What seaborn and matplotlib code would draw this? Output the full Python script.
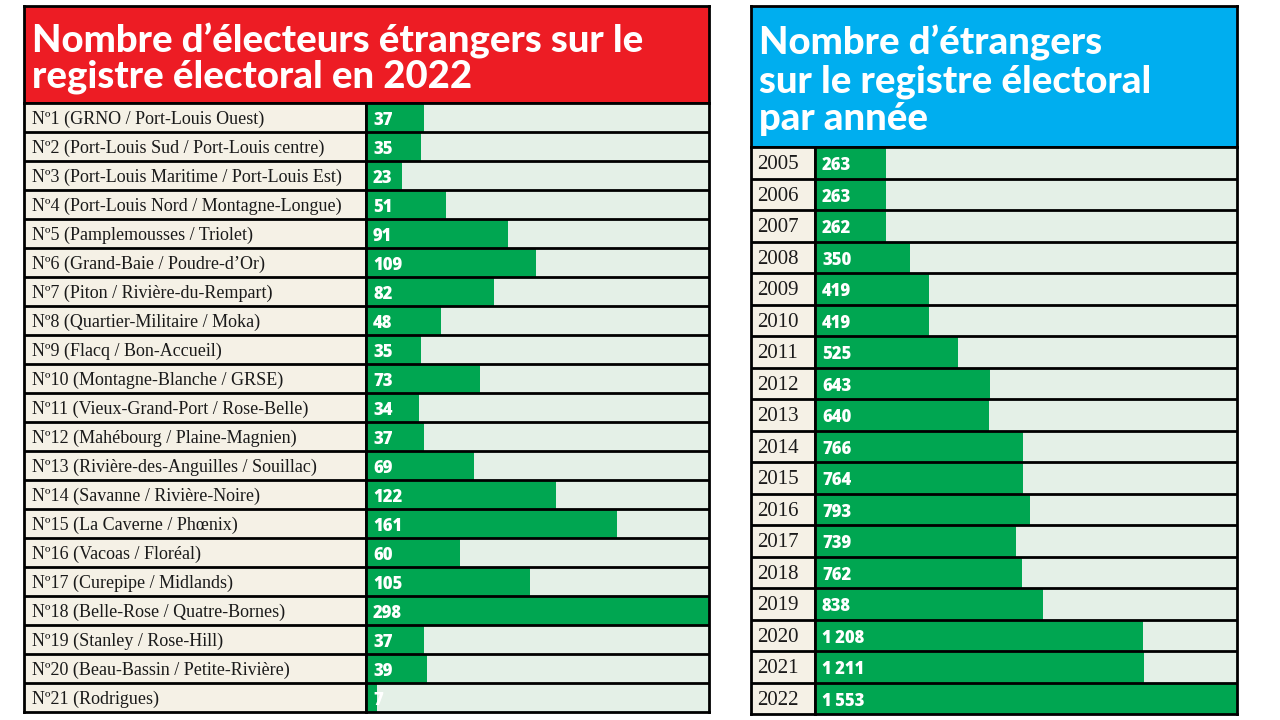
import matplotlib
matplotlib.use("Agg")
import matplotlib.pyplot as plt
import seaborn as sns
import pandas as pd

# Données : électeurs étrangers par circonscription (2022)
circonscriptions = [
    "N\u00ba1 (GRNO / Port-Louis Ouest)",
    "N\u00ba2 (Port-Louis Sud / Port-Louis centre)",
    "N\u00ba3 (Port-Louis Maritime / Port-Louis Est)",
    "N\u00ba4 (Port-Louis Nord / Montagne-Longue)",
    "N\u00ba5 (Pamplemousses / Triolet)",
    "N\u00ba6 (Grand-Baie / Poudre-d\u2019Or)",
    "N\u00ba7 (Piton / Rivi\u00e8re-du-Rempart)",
    "N\u00ba8 (Quartier-Militaire / Moka)",
    "N\u00ba9 (Flacq / Bon-Accueil)",
    "N\u00ba10 (Montagne-Blanche / GRSE)",
    "N\u00ba11 (Vieux-Grand-Port / Rose-Belle)",
    "N\u00ba12 (Mah\u00e9bourg / Plaine-Magnien)",
    "N\u00ba13 (Rivi\u00e8re-des-Anguilles / Souillac)",
    "N\u00ba14 (Savanne / Rivi\u00e8re-Noire)",
    "N\u00ba15 (La Caverne / Ph\u0153nix)",
    "N\u00ba16 (Vacoas / Flor\u00e9al)",
    "N\u00ba17 (Curepipe / Midlands)",
    "N\u00ba18 (Belle-Rose / Quatre-Bornes)",
    "N\u00ba19 (Stanley / Rose-Hill)",
    "N\u00ba20 (Beau-Bassin / Petite-Rivi\u00e8re)",
    "N\u00ba21 (Rodrigues)",
]
electeurs_2022 = [37, 35, 23, 51, 91, 109, 82, 48, 35, 73, 34, 37, 69, 122, 161,
                  60, 105, 298, 37, 39, 7]

# Données : étrangers sur le registre par année
annees = [str(a) for a in range(2005, 2023)]
etrangers = [263, 263, 262, 350, 419, 419, 525, 643, 640, 766, 764, 793, 739,
             762, 838, 1208, 1211, 1553]
etiquettes = ["263", "263", "262", "350", "419", "419", "525", "643", "640",
              "766", "764", "793", "739", "762", "838", "1\u2009208",
              "1\u2009211", "1\u2009553"]

ROUGE = "#ed1c24"
BLEU = "#00aeef"
VERT = "#00a651"
FOND_BARRE = "#e4f0e7"
FOND_LABEL = "#f5f1e6"

W, H = 1280, 720
fig = plt.figure(figsize=(12.8, 7.2), dpi=100)
fig.patch.set_facecolor("white")


def box(x0, y0, x1, y1):
    # coordonnées en pixels (origine en haut à gauche) -> axes
    return fig.add_axes([x0 / W, 1 - y1 / H, (x1 - x0) / W, (y1 - y0) / H])


def titre(x0, y0, x1, y1, couleur, texte, interligne, yc):
    ax = box(x0, y0, x1, y1)
    ax.set_facecolor(couleur)
    ax.set_xticks([])
    ax.set_yticks([])
    for s in ax.spines.values():
        s.set_linewidth(2)
        s.set_color("black")
    ax.text(8 / (x1 - x0), yc, texte, transform=ax.transAxes, ha="left",
            va="center", color="white", fontsize=27.5, fontweight=900,
            family=["Lato", "DejaVu Sans"], linespacing=interligne)


def tableau(x0, y0, xm, x1, y1, noms, valeurs, textes, xmax, police_nom, marge):
    n = len(noms)
    # colonne des libellés
    axl = box(x0, y0, xm, y1)
    axl.set_facecolor(FOND_LABEL)
    axl.set_xlim(0, xm - x0)
    axl.set_ylim(n - 0.5, -0.5)
    for i, nom in enumerate(noms):
        axl.text(marge, i + 0.06, nom, ha="left", va="center",
                 fontsize=police_nom, family=["Liberation Serif", "DejaVu Serif"],
                 color="#1a1a1a")
    for i in range(n - 1):
        axl.axhline(i + 0.5, color="black", lw=2)
    axl.set_xticks([])
    axl.set_yticks([])
    for s in axl.spines.values():
        s.set_linewidth(2)

    # colonne des barres
    axb = box(xm, y0, x1, y1)
    axb.set_facecolor(FOND_BARRE)
    df = pd.DataFrame({"nom": noms, "valeur": valeurs})
    sns.barplot(data=df, x="valeur", y="nom", color=VERT, width=1.0,
                saturation=1, ax=axb, orient="h")
    axb.set_xlim(0, xmax)
    axb.set_ylim(n - 0.5, -0.5)
    px = xmax / (x1 - xm)
    for i, t in enumerate(textes):
        axb.text(7 * px, i + 0.1, t, ha="left", va="center", color="white",
                 fontsize=12, fontweight="heavy",
                 family=["Open Sans", "DejaVu Sans"])
    for i in range(n - 1):
        axb.axhline(i + 0.5, color="black", lw=2)
    axb.set_xticks([])
    axb.set_yticks([])
    axb.set_xlabel("")
    axb.set_ylabel("")
    for s in axb.spines.values():
        s.set_linewidth(2)


titre(24, 6, 709, 103, ROUGE,
      "Nombre d\u2019\u00e9lecteurs \u00e9trangers sur le\nregistre \u00e9lectoral en 2022",
      1.0, 0.46)
tableau(24, 103, 366, 709, 712, circonscriptions, electeurs_2022,
        [str(v) for v in electeurs_2022], 220, 13, 8)

titre(751, 6, 1237, 147, BLEU,
      "Nombre d\u2019\u00e9trangers\nsur le registre \u00e9lectoral\npar ann\u00e9e",
      1.12, 0.47)
tableau(751, 147, 815, 1237, 714, annees, etrangers, etiquettes, 1553, 15, 6)

fig.savefig("out.png", dpi=100)
